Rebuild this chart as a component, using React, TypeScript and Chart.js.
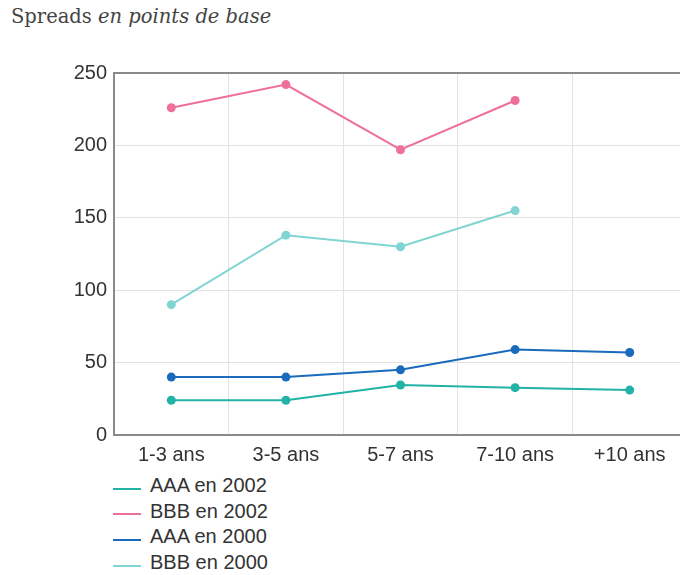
import React, { useEffect, useRef } from "react";
import { Chart, registerables } from "chart.js";

Chart.register(...registerables);

const categories = ["1-3 ans", "3-5 ans", "5-7 ans", "7-10 ans", "+10 ans"];
const aaa2002 = [24, 24, 34.5, 32.7, 31];
const bbb2002 = [226, 242, 197, 231, null];
const aaa2000 = [40, 40, 45, 59, 57];
const bbb2000 = [90, 138, 130, 155, null];
const seriesNames = ["AAA en 2002", "BBB en 2002", "AAA en 2000", "BBB en 2000"];
const seriesColors = ["#22b3a6", "#ef6f9b", "#1a6bbd", "#80d4d1"];
const yTicks = [0, 50, 100, 150, 200, 250];

const FONT = "'Liberation Sans', Arial, sans-serif";

export default function App() {
  const ref = useRef<HTMLCanvasElement | null>(null);

  useEffect(() => {
    if (!ref.current) return;
    const values = [aaa2002, bbb2002, aaa2000, bbb2000];
    const chart = new Chart(ref.current, {
      type: "line",
      data: {
        labels: categories,
        datasets: values.map((v, i) => ({
          label: seriesNames[i],
          data: v,
          borderColor: seriesColors[i],
          backgroundColor: seriesColors[i],
          pointBackgroundColor: seriesColors[i],
          pointBorderColor: seriesColors[i],
          pointRadius: 4.5,
          pointBorderWidth: 0,
          borderWidth: 2,
          tension: 0,
          spanGaps: false,
        })),
      },
      options: {
        animation: false,
        responsive: false,
        maintainAspectRatio: false,
        layout: { padding: { top: 73, right: 13, left: 0, bottom: 0 } },
        plugins: {
          legend: { display: false },
          tooltip: { enabled: false },
          title: { display: false },
        },
        scales: {
          x: {
            type: "category",
            offset: true,
            grid: {
              offset: true,
              color: "#e2e2e2",
              lineWidth: 1,
              drawTicks: false,
            },
            border: { color: "#8a8a8a", width: 2 },
            ticks: {
              color: "#333",
              font: { family: FONT, size: 20 },
              padding: 8,
              maxRotation: 0,
            },
            afterFit: (s: any) => {
              s.height = 35;
            },
          },
          y: {
            min: 0,
            max: 250,
            afterBuildTicks: (s: any) => {
              s.ticks = yTicks.map((v) => ({ value: v }));
            },
            grid: {
              color: (ctx: any) =>
                ctx.tick && ctx.tick.value === 250 ? "#8a8a8a" : "#e2e2e2",
              lineWidth: (ctx: any) =>
                ctx.tick && ctx.tick.value === 250 ? 2 : 1,
              drawTicks: false,
            },
            border: { color: "#8a8a8a", width: 2 },
            ticks: {
              color: "#333",
              font: { family: FONT, size: 20 },
              padding: 7,
            },
            afterFit: (s: any) => {
              s.width = 114;
            },
          },
        },
      },
    });
    return () => chart.destroy();
  }, []);

  return (
    <div
      style={{
        position: "fixed",
        left: 0,
        top: 0,
        width: 680,
        height: 575,
        overflow: "hidden",
        background: "#fff",
      }}
    >
      <div
        style={{
          position: "absolute",
          left: 11,
          top: 4,
          fontFamily: "'DejaVu Serif', 'Liberation Serif', serif",
          fontSize: 19.5,
          color: "#444",
          whiteSpace: "nowrap",
          lineHeight: "26px",
        }}
      >
        Spreads <i>en points de base</i>
      </div>
      <canvas
        ref={ref}
        width={700}
        height={470}
        style={{ position: "absolute", left: 0, top: 0, width: 700, height: 470 }}
      />
      {seriesNames.map((name, i) => (
        <div
          key={name}
          style={{
            position: "absolute",
            left: 113,
            top: 473 + i * 25.7,
            height: 25,
            display: "flex",
            alignItems: "center",
            fontFamily: FONT,
            fontSize: 20,
            color: "#333",
            whiteSpace: "nowrap",
          }}
        >
          <span
            style={{
              display: "inline-block",
              width: 28,
              height: 2,
              background: seriesColors[i],
              marginRight: 9,
              marginTop: 6,
            }}
          />
          {name}
        </div>
      ))}
    </div>
  );
}
